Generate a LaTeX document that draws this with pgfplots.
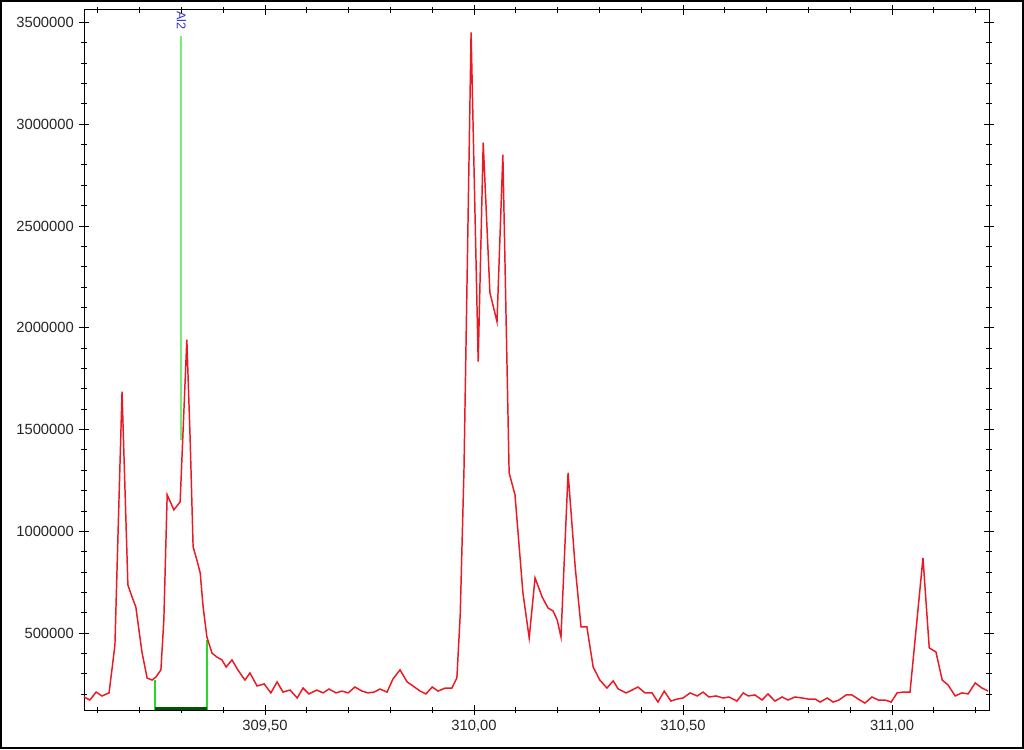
\documentclass[border=0pt]{standalone}
\usepackage{fontspec}
\setmainfont{Liberation Sans}
\usepackage{pgfplots}
\usepackage{pgfplotstable}
\pgfplotsset{compat=1.18}

\definecolor{linered}{RGB}{235,25,35}
\definecolor{markgreen}{RGB}{40,215,40}
\definecolor{lightgreen}{RGB}{120,235,120}
\definecolor{darkgreen}{RGB}{0,85,0}
\definecolor{labelblue}{RGB}{50,50,210}

% wavelength (nm) vs intensity
\pgfplotstableread{
x y
309.067 187000
309.081 172000
309.096 211000
309.110 192000
309.127 207000
309.141 442000
309.148 959000
309.158 1686000
309.172 737000
309.182 678000
309.191 629000
309.206 403000
309.218 280000
309.230 270000
309.239 285000
309.251 320000
309.258 565000
309.266 1180000
309.282 1106000
309.297 1145000
309.313 1942000
309.321 1450000
309.328 924000
309.337 860000
309.345 796000
309.352 629000
309.361 482000
309.373 403000
309.385 383000
309.397 369000
309.407 334000
309.421 369000
309.435 320000
309.452 270000
309.464 305000
309.481 241000
309.498 251000
309.514 207000
309.529 261000
309.543 211000
309.560 221000
309.577 182000
309.591 231000
309.605 202000
309.624 221000
309.639 207000
309.653 226000
309.670 207000
309.684 216000
309.699 207000
309.715 236000
309.732 216000
309.746 207000
309.761 211000
309.775 226000
309.792 211000
309.806 275000
309.823 320000
309.840 261000
309.854 241000
309.871 216000
309.885 202000
309.900 236000
309.914 216000
309.931 231000
309.947 231000
309.959 280000
309.967 590000
309.976 1303000
309.993 3451000
310.010 1834000
310.022 2910000
310.038 2173000
310.055 2030000
310.069 2851000
310.084 1288000
310.098 1180000
310.117 698000
310.132 477000
310.146 772000
310.163 678000
310.177 624000
310.189 610000
310.199 565000
310.208 482000
310.225 1288000
310.242 826000
310.256 531000
310.270 531000
310.285 334000
310.301 270000
310.318 231000
310.333 266000
310.345 226000
310.364 207000
310.378 221000
310.392 236000
310.409 207000
310.426 207000
310.440 162000
310.455 216000
310.471 167000
310.486 177000
310.500 182000
310.517 207000
310.534 192000
310.548 211000
310.562 187000
310.579 192000
310.596 182000
310.610 187000
310.629 167000
310.644 207000
310.656 192000
310.672 197000
310.689 172000
310.703 202000
310.720 167000
310.737 187000
310.751 172000
310.768 187000
310.785 182000
310.799 177000
310.816 177000
310.828 162000
310.845 182000
310.859 162000
310.873 172000
310.890 197000
310.904 197000
310.919 177000
310.935 157000
310.952 187000
310.967 172000
310.983 172000
310.998 162000
311.012 207000
311.026 211000
311.043 211000
311.074 870000
311.089 428000
311.105 408000
311.120 270000
311.134 246000
311.151 192000
311.167 207000
311.182 202000
311.199 256000
311.215 231000
311.230 216000
}\spectrum

\begin{document}
\begin{tikzpicture}
\begin{axis}[
  at={(0,0)}, anchor=south west,
  scale only axis,
  width=226.25mm, height=175mm,
  xmin=309.067, xmax=311.232,
  ymin=123000, ymax=3561000,
  clip=false,
  axis line style={line width=0.7pt},
  tick style={black, line width=0.7pt},
  tick align=center,
  major tick length=2.6mm,
  minor tick length=1.4mm,
  xtick={309.5,310,310.5,311},
  minor xtick={309.1,309.2,309.3,309.4,309.6,309.7,309.8,309.9,310.1,310.2,310.3,310.4,310.6,310.7,310.8,310.9,311.1,311.2},
  ytick={500000,1000000,1500000,2000000,2500000,3000000,3500000},
  minor ytick={200000,300000,400000,600000,700000,800000,900000,1100000,1200000,1300000,1400000,1600000,1700000,1800000,1900000,2100000,2200000,2300000,2400000,2600000,2700000,2800000,2900000,3100000,3200000,3300000,3400000},
  scaled ticks=false,
  tick label style={font=\fontsize{10.5}{12}\selectfont, text=black!85},
  xticklabel style={/pgf/number format/.cd, fixed, fixed zerofill, precision=2, use comma, assume math mode=true},
  yticklabel style={/pgf/number format/.cd, fixed, precision=0, 1000 sep={}, assume math mode=true},
]
% Al line marker
\addplot[lightgreen, line width=1.3pt] coordinates {(309.3,3431000) (309.3,1450000)};
\node[rotate=-90, anchor=west, text=labelblue, font=\fontsize{9}{10}\selectfont, inner sep=0pt]
  at (axis cs:309.3,3555000) {Al2};
% integration window
\addplot[markgreen, line width=1.3pt] coordinates {(309.236,270000) (309.236,125000)};
\addplot[markgreen, line width=1.3pt] coordinates {(309.362,467000) (309.362,125000)};
\addplot[darkgreen, line width=2.2pt] coordinates {(309.236,131000) (309.362,131000)};
% spectrum
\addplot[linered, line width=1.05pt] table {\spectrum};
\end{axis}
% outer frame, 1px = 0.25mm
\draw[line width=0.5mm] (-83*0.25mm,-38*0.25mm) rectangle (939*0.25mm,709*0.25mm);
\end{tikzpicture}
\end{document}
